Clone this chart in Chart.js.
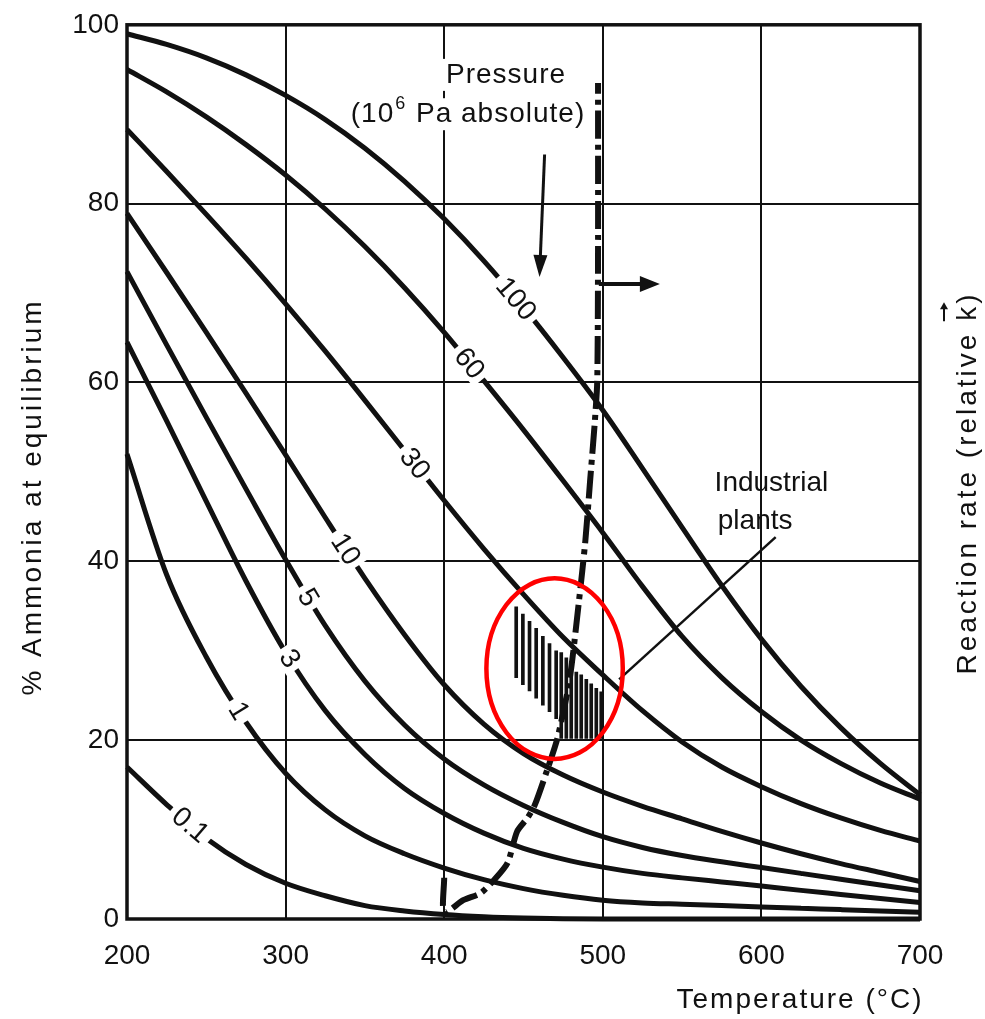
<!DOCTYPE html>
<html><head><meta charset="utf-8">
<script src="https://cdn.jsdelivr.net/npm/chart.js@4.4.1/dist/chart.umd.min.js"></script>
<style>html,body{margin:0;padding:0;background:#fff;}#wrap{width:985px;height:1019px;}</style>
</head><body><div id="wrap"><canvas id="c" width="985" height="1019"></canvas></div>
<script>
// ---- data ----
const temps = [200,225,250,275,300,325,350,375,400,425,450,475,500,525,550,575,600,625,650,675,700];
const p100 = [99,97.8,96.3,94.4,92.1,89.4,86.2,82.5,78.3,73.6,68.4,62.8,56.9,50.4,43.8,37.3,31.3,26.0,21.4,17.4,13.9];
const p60  = [95,92.5,89.7,86.6,83.2,79.4,75.2,70.6,65.6,60.2,54.7,49,43.2,37.2,31.6,27.0,23.2,20.0,17.4,15.2,13.4];
const p30  = [88.3,83.6,78.8,73.9,68.8,63.5,58.0,52.4,46.8,41.4,36.3,31.5,27.3,23.3,19.8,17.0,14.8,12.9,11.3,9.9,8.7];
const p10  = [78.9,72.3,65.6,58.8,51.9,44.9,38.1,31.8,26.2,21.8,18.5,16.1,14.2,12.6,11.2,9.8,8.5,7.3,6.2,5.2,4.2];
const p5   = [72.4,64.2,56.1,48.1,40.2,32.8,26.6,21.7,17.9,15.0,12.7,10.8,9.2,8.0,7.1,6.4,5.75,5.1,4.45,3.8,3.15];
const p3   = [64.5,55.7,46.7,37.8,29.8,23.3,18.4,14.6,11.8,9.6,7.9,6.7,5.8,5.1,4.6,4.15,3.7,3.2,2.75,2.3,1.85];
const p1   = [52,38.5,29.3,22,16.3,12.2,9.3,7.3,5.7,4.4,3.4,2.65,2.1,1.8,1.65,1.5,1.35,1.2,1.05,0.9,0.75];
const p01  = [17,12.8,9,6.1,4,2.6,1.5,0.9,0.5,0.25,0.1,0.03,0,0,0,0,0,0,0,0,0];
const pressureNames = ['100','60','30','10','5','3','1','0.1'];
const labelTemps = [445.4, 416, 381.6, 338, 314.3, 302.6, 270.6, 240];

// reaction-rate curve (dash-dot)
const rateT = [400,400,412,423,431.6,440,446,452.5,457,465,471.5,479,485,489,492,495,496.5,497,497];
const rateY = [4.6,0.7,2.1,2.9,4.4,6.3,9.8,11.3,12.7,16.7,20.3,26.7,35.6,42.3,49,55.7,60.2,75,93.5];

// industrial plants hatch (vertical strokes)
const hatchX   = [445.4,449.6,453.8,458,462.2,466.4,470.6,473.8,477,480.1,483.3,486.4,489.6,492.7,495.9,499];
const hatchTop = [34.9,34.1,33.3,32.5,31.6,30.8,30.0,29.8,29.2,28.6,27.6,27.3,26.8,26.3,25.8,25.4];
const hatchBot = [27.0,26.2,25.5,24.7,23.9,23.2,22.4,20.2,20.2,20.2,20.2,20.2,20.2,20.2,20.2,20.2];

const xTicks = [200,300,400,500,600,700];
const yTicks = [0,20,40,60,80,100];

// ---- build ----
const series = [p100,p60,p30,p10,p5,p3,p1,p01];
const FONT = "'Liberation Sans', Arial, Helvetica, sans-serif";
Chart.defaults.font.family = FONT;
Chart.defaults.color = '#111';

const datasets = series.map((vals,i)=>({
  type:'line',
  label: pressureNames[i],
  data: temps.map((t,j)=>({x:t,y:vals[j]})),
  borderColor:'#111', borderWidth:5, pointRadius:0, fill:false,
  cubicInterpolationMode:'monotone', clip:4
}));
datasets.push({
  type:'line', label:'rate',
  data: rateT.map((t,j)=>({x:t,y:rateY[j]})),
  borderColor:'#111', borderWidth:6, pointRadius:0, fill:false,
  tension:0.25, borderDash:[28,6,5,6]
});
datasets.push({
  type:'bar', label:'plants',
  data: hatchX.map((t,j)=>({x:t,y:[hatchBot[j],hatchTop[j]]})),
  backgroundColor:'#111', barThickness:3, borderWidth:0
});

function interp(arrX, arrY, x){
  for(let i=0;i<arrX.length-1;i++){
    if(x>=arrX[i] && x<=arrX[i+1]){
      const f=(x-arrX[i])/(arrX[i+1]-arrX[i]);
      return {y:arrY[i]+f*(arrY[i+1]-arrY[i]), i};
    }
  }
  return {y:arrY[arrY.length-1], i:arrX.length-2};
}

function arrow(ctx,x1,y1,x2,y2,head,hw,lw){
  ctx.save();
  ctx.strokeStyle='#111'; ctx.fillStyle='#111'; ctx.lineWidth=lw;
  const a=Math.atan2(y2-y1,x2-x1);
  ctx.beginPath(); ctx.moveTo(x1,y1);
  ctx.lineTo(x2-Math.cos(a)*head*0.8,y2-Math.sin(a)*head*0.8); ctx.stroke();
  ctx.beginPath(); ctx.moveTo(x2,y2);
  ctx.lineTo(x2-Math.cos(a)*head+Math.sin(a)*hw, y2-Math.sin(a)*head-Math.cos(a)*hw);
  ctx.lineTo(x2-Math.cos(a)*head-Math.sin(a)*hw, y2-Math.sin(a)*head+Math.cos(a)*hw);
  ctx.closePath(); ctx.fill();
  ctx.restore();
}

const decor = {
  id:'decor',
  afterDatasetsDraw(chart){
    const ctx=chart.ctx, xs=chart.scales.x, ys=chart.scales.y, ca=chart.chartArea;
    const X=v=>xs.getPixelForValue(v), Y=v=>ys.getPixelForValue(v);

    // curve labels
    ctx.save();
    ctx.font = "28px "+FONT;
    series.forEach((vals,k)=>{
      const t=labelTemps[k];
      const r=interp(temps,vals,t);
      const i=r.i;
      const ang=Math.atan2(Y(vals[i+1])-Y(vals[i]), X(temps[i+1])-X(temps[i]));
      const px=X(t), py=Y(r.y);
      const txt=pressureNames[k];
      const w=ctx.measureText(txt).width;
      ctx.save(); ctx.translate(px,py); ctx.rotate(ang);
      ctx.fillStyle='#fff'; ctx.fillRect(-w/2-5,-12,w+10,24);
      ctx.fillStyle='#111'; ctx.textAlign='center'; ctx.textBaseline='middle';
      ctx.fillText(txt,0,1);
      ctx.restore();
    });
    ctx.restore();

    // Pressure caption
    ctx.save();
    ctx.font="28px "+FONT; ctx.textBaseline='middle';
    try{ ctx.letterSpacing='1px'; }catch(e){}
    const l1='Pressure';
    const w1=ctx.measureText(l1).width;
    const c1x=X(439), c1y=Y(94.4);
    const partA='(10', partB=' Pa absolute)';
    const wA=ctx.measureText(partA).width, wB=ctx.measureText(partB).width;
    ctx.font="18px "+FONT; const wS=ctx.measureText('6').width;
    const tot=wA+wS+wB+2;
    const c2x=X(415), c2y=Y(90.0);
    ctx.fillStyle='#fff';
    ctx.fillRect(c1x-w1/2-4,c1y-16,w1+8,32);
    ctx.fillRect(c2x-tot/2-4,c2y-16,tot+8,32);
    ctx.fillStyle='#111'; ctx.textAlign='left';
    ctx.font="28px "+FONT;
    ctx.fillText(l1,c1x-w1/2,c1y);
    let sx=c2x-tot/2;
    ctx.fillText(partA,sx,c2y); sx+=wA;
    ctx.font="18px "+FONT; ctx.fillText('6',sx+1,c2y-10); sx+=wS+2;
    ctx.font="28px "+FONT; ctx.fillText(partB,sx,c2y);
    ctx.restore();

    // arrows
    arrow(ctx,X(463.3),Y(85.5),X(460.1),Y(71.8),22,7,3);
    arrow(ctx,X(497.5),Y(71),X(536),Y(71),20,8,4);

    // Industrial plants
    ctx.save();
    ctx.font="28px "+FONT; ctx.fillStyle='#111'; ctx.textAlign='left'; ctx.textBaseline='middle';
    ctx.fillText('Industrial',X(570.5),Y(48.75));
    ctx.fillText('plants',X(572.5),Y(44.5));
    ctx.strokeStyle='#111'; ctx.lineWidth=2.5;
    ctx.beginPath(); ctx.moveTo(X(609),Y(42.7)); ctx.lineTo(X(510.3),Y(26.8)); ctx.stroke();
    ctx.restore();

    // red ellipse
    ctx.save();
    ctx.strokeStyle='#f00'; ctx.lineWidth=4.5;
    ctx.beginPath();
    ctx.ellipse(X(469.6),Y(28),X(469.6+43)-X(469.6),Y(28)-Y(28+10.1),0,0,Math.PI*2);
    ctx.stroke();
    ctx.restore();

    // frame
    ctx.save();
    ctx.strokeStyle='#111'; ctx.lineWidth=3.5;
    ctx.strokeRect(ca.left,ca.top,ca.right-ca.left,ca.bottom-ca.top);
    ctx.restore();
  },
  afterDraw(chart){
    const ctx=chart.ctx;
    ctx.save();
    ctx.fillStyle='#111';
    ctx.font="28px "+FONT;
    try{ ctx.letterSpacing='3px'; }catch(e){}
    ctx.textAlign='center'; ctx.textBaseline='middle';
    // left title
    ctx.save(); ctx.translate(33,497); ctx.rotate(-Math.PI/2);
    ctx.fillText('% Ammonia at equilibrium',0,0); ctx.restore();
    // right title
    ctx.save(); ctx.translate(968,483); ctx.rotate(-Math.PI/2);
    const rt='Reaction rate (relative k)';
    ctx.fillText(rt,0,0);
    const full=ctx.measureText(rt).width;
    const upToK=ctx.measureText('Reaction rate (relative ').width;
    const kw=ctx.measureText('k').width;
    const ax=-full/2+upToK+kw/2;
    arrow(ctx,ax-9,-24,ax+10,-24,7,4,2);
    ctx.restore();
    // bottom title
    try{ ctx.letterSpacing='2px'; }catch(e){}
    ctx.fillText('Temperature (°C)',800,1000);
    ctx.restore();
  }
};

new Chart(document.getElementById('c'),{
  type:'line',
  data:{datasets},
  options:{
    responsive:false, animation:false, devicePixelRatio:1,
    layout:{padding:{top:22,right:65,left:0,bottom:0}},
    plugins:{legend:{display:false},tooltip:{enabled:false}},
    scales:{
      x:{type:'linear',min:200,max:700,offset:false,
         afterBuildTicks(s){s.ticks=xTicks.map(v=>({value:v}));},
         ticks:{padding:20,font:{size:28},color:'#111'},
         grid:{color:'#111',lineWidth:2,drawTicks:false,offset:false},
         border:{display:false},
         afterFit(s){s.height=100;}},
      y:{type:'linear',min:0,max:100,
         afterBuildTicks(s){s.ticks=yTicks.map(v=>({value:v}));},
         ticks:{padding:8,font:{size:28},color:'#111'},
         grid:{color:'#111',lineWidth:2,drawTicks:false},
         border:{display:false},
         afterFit(s){s.width=127;}}
    }
  },
  plugins:[decor]
});
</script></body></html>
